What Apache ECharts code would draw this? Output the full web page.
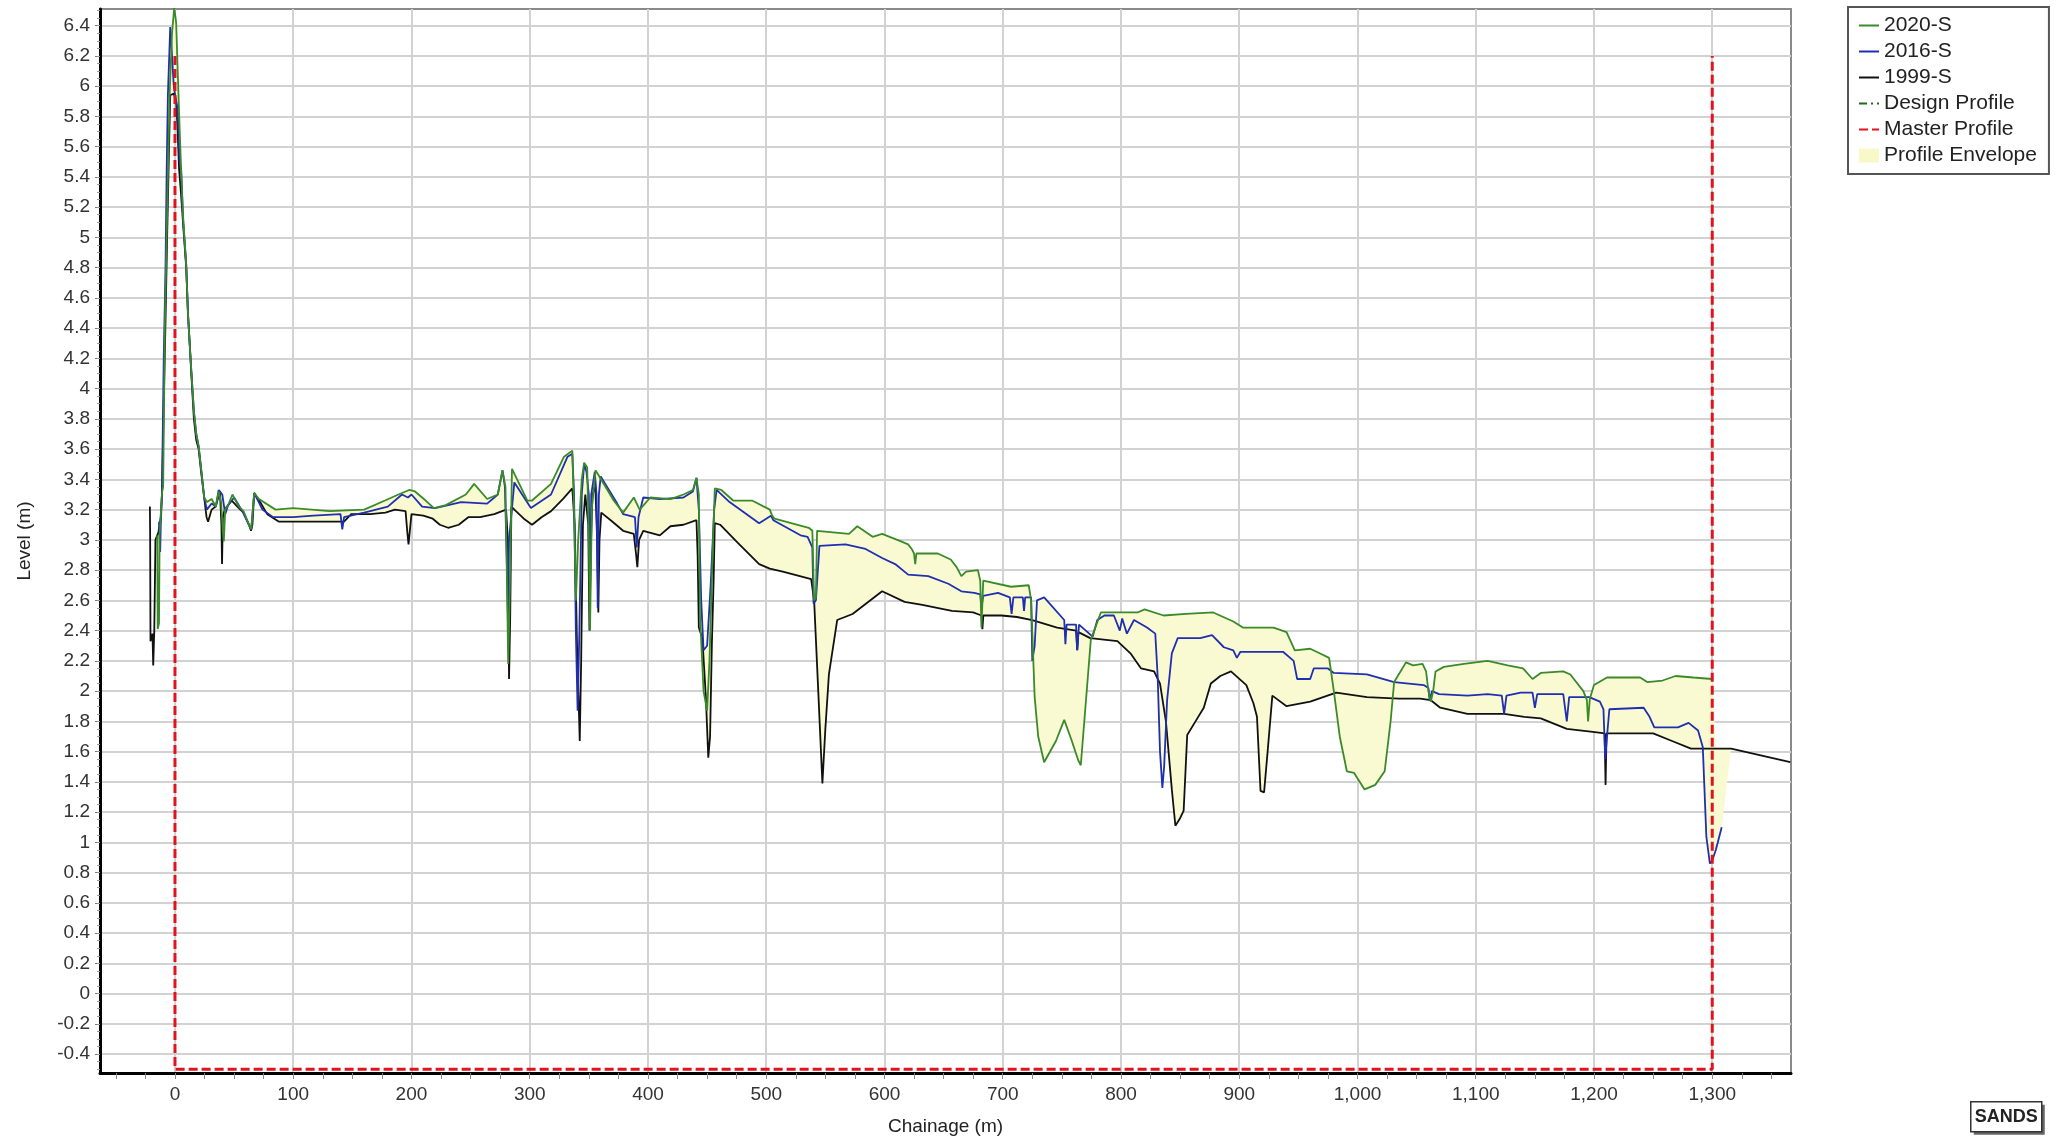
<!DOCTYPE html>
<html><head><meta charset="utf-8">
<script src="https://cdn.jsdelivr.net/npm/echarts@6/dist/echarts.min.js"></script>
<style>html,body{margin:0;padding:0;background:#fff}#c{width:2063px;height:1141px}</style>
</head><body><div id="c"></div>
<script>
// ---- tick labels ----
const xTicks = [0,100,200,300,400,500,600,700,800,900,1000,1100,1200,1300];
const yTicks = [-0.4,-0.2,0,0.2,0.4,0.6,0.8,1,1.2,1.4,1.6,1.8,2,2.2,2.4,2.6,2.8,3,3.2,3.4,3.6,3.8,4,4.2,4.4,4.6,4.8,5,5.2,5.4,5.6,5.8,6,6.2,6.4];

// ---- series: [chainage m, level m] ----
const s1999 = [[-21.2,3.22],[-21,3.03],[-20.7,2.33],[-19,2.38],[-18.4,2.17],[-17.5,2.4],[-16.5,3.0],[-14,3.05],[-12,3.15],[-11,3.3],[-9.5,3.9],[-8,4.45],[-6.5,5.05],[-5,5.6],[-4,5.94],[-1,5.95],[1,5.9],[2,5.75],[3.5,5.45],[5,5.3],[6.6,5.12],[9.5,4.8],[11,4.5],[13.8,4.1],[16,3.8],[18,3.66],[20,3.6],[22.4,3.43],[24.7,3.28],[26.7,3.15],[28,3.12],[31,3.2],[34.5,3.22],[38,3.32],[39.3,3.1],[39.8,2.84],[40.5,3.15],[42,3.2],[48,3.26],[54,3.21],[58,3.18],[62.6,3.1],[64.3,3.06],[65.5,3.1],[67,3.31],[72,3.25],[78,3.17],[88,3.12],[103,3.12],[120,3.12],[143,3.12],[149,3.17],[165,3.17],[178,3.18],[186,3.2],[195,3.19],[196.5,3.05],[197.5,2.97],[198.5,3.05],[200,3.17],[210,3.16],[218,3.14],[224,3.1],[231,3.08],[240,3.1],[248,3.15],[258,3.15],[270,3.17],[280,3.2],[281.5,3.0],[282.5,2.08],[283.5,2.5],[284.5,3.22],[287,3.2],[295,3.14],[302,3.1],[310,3.15],[318,3.19],[328,3.27],[336,3.34],[338,3.1],[340,2.3],[342.3,1.67],[343.5,2.2],[345,3.1],[347,3.3],[349.5,3.1],[350.5,2.4],[351.5,2.9],[353,3.3],[355.5,3.35],[357,3.0],[358,2.52],[359,3.0],[360.5,3.18],[370,3.12],[379,3.06],[388,3.04],[390,2.9],[391,2.82],[392.5,3.0],[396,3.06],[410,3.03],[419,3.09],[430,3.1],[441,3.13],[442,2.9],[443,2.42],[446,2.35],[449,1.95],[451,1.56],[452.5,1.7],[454,2.3],[455.5,2.73],[456.5,3.11],[461,3.1],[476,2.98],[494,2.84],[503,2.81],[514,2.79],[538,2.74],[540.5,2.6],[544,2.0],[547.5,1.39],[550,1.75],[553,2.11],[560,2.47],[573,2.51],[598,2.66],[617,2.59],[632,2.57],[657,2.53],[675,2.52],[682,2.5],[682.8,2.41],[683.6,2.5],[699,2.5],[712,2.49],[725,2.47],[746,2.42],[762,2.4],[763,2.27],[764,2.39],[774,2.35],[797,2.33],[808,2.25],[817,2.15],[828,2.13],[833,2.05],[838,1.8],[843,1.35],[846,1.11],[850,1.16],[853,1.21],[856,1.71],[863,1.8],[870,1.89],[876,2.05],[884,2.1],[893,2.13],[906,2.04],[912,1.92],[915,1.83],[918,1.34],[921,1.33],[924,1.6],[928,1.97],[940,1.9],[960,1.93],[982,1.99],[1008,1.96],[1035,1.95],[1053,1.95],[1062,1.94],[1070,1.89],[1093,1.85],[1124,1.85],[1141,1.83],[1155,1.82],[1177,1.75],[1199,1.73],[1209,1.72],[1209.8,1.38],[1210.6,1.72],[1233,1.72],[1250,1.72],[1266,1.67],[1282,1.62],[1316,1.62],[1366,1.53]];

const s2016 = [[-13.5,3.12],[-12.5,2.92],[-12,3.1],[-11,3.3],[-9.5,4.2],[-8,4.8],[-7,5.45],[-6,5.94],[-4,6.39],[-2.5,6.2],[-1,6.0],[1,5.9],[2.3,5.85],[4,5.5],[5.2,5.45],[7,5.1],[9.5,4.82],[11,4.49],[13.8,4.12],[16,3.85],[18,3.7],[20,3.62],[22.4,3.45],[24.7,3.28],[27,3.2],[31,3.24],[34.5,3.22],[37,3.33],[40,3.3],[42.5,3.17],[45,3.23],[50,3.28],[57,3.19],[62.5,3.1],[64.5,3.07],[67,3.31],[74,3.2],[83,3.15],[100,3.15],[117,3.16],[140,3.17],[141.5,3.07],[143,3.15],[160,3.18],[180,3.22],[192,3.3],[197,3.28],[200,3.3],[209,3.22],[220,3.21],[242,3.25],[264,3.24],[273,3.3],[277,3.46],[279,3.35],[280.5,2.9],[281.5,2.51],[282.5,3.0],[287,3.38],[301,3.21],[318,3.3],[332,3.55],[336,3.57],[337.5,3.3],[339,2.4],[340.5,1.87],[342,2.4],[344,3.3],[346,3.5],[348,3.45],[350,3.3],[351,2.6],[352,3.3],[355,3.45],[356.5,3.3],[357.5,2.55],[358.5,3.3],[360,3.42],[374,3.24],[379,3.17],[389,3.15],[390.5,2.95],[392,3.15],[396,3.28],[410,3.27],[430,3.28],[438,3.32],[441,3.41],[443,3.2],[445,2.6],[447,2.27],[450,2.3],[453,2.7],[456,3.2],[458,3.33],[469,3.25],[494,3.11],[504,3.16],[506,3.13],[529,3.03],[535,3.02],[539,2.95],[540,2.58],[542,2.6],[545,2.96],[567,2.97],[584,2.94],[598,2.88],[609,2.84],[620,2.77],[637,2.76],[654,2.71],[665,2.66],[676,2.65],[681,2.64],[682,2.55],[683.5,2.63],[696,2.65],[706,2.62],[707.5,2.51],[709,2.62],[717,2.62],[718,2.53],[719,2.62],[724,2.62],[725,2.2],[727,2.3],[729,2.6],[735,2.62],[752,2.47],[753,2.31],[754,2.44],[762,2.44],[763,2.27],[764.5,2.44],[776,2.36],[780,2.47],[786,2.5],[794,2.5],[799,2.4],[801,2.48],[805,2.38],[811,2.47],[822,2.42],[829,2.38],[831,2.1],[833,1.6],[835,1.36],[836.5,1.5],[839,1.94],[843,2.25],[848,2.35],[867,2.35],[877,2.37],[887,2.29],[895,2.27],[898,2.22],[901,2.26],[937,2.26],[946,2.2],[949,2.08],[960,2.08],[963,2.15],[975,2.15],[980,2.12],[1008,2.11],[1031,2.06],[1056,2.04],[1060,2.02],[1061,1.94],[1063,2.0],[1069,1.98],[1093,1.97],[1110,1.98],[1122,1.97],[1124,1.85],[1126,1.97],[1138,1.99],[1148,1.99],[1150,1.89],[1152,1.98],[1174,1.98],[1177,1.8],[1179,1.96],[1196,1.96],[1205,1.93],[1208,1.88],[1209.5,1.55],[1211,1.7],[1213,1.88],[1242,1.89],[1247,1.83],[1251,1.76],[1271,1.76],[1280,1.79],[1288,1.74],[1292,1.63],[1295,1.04],[1298,0.86],[1300,0.88],[1303,0.95],[1308,1.1]];

const s2020 = [[-15,3.03],[-14.6,2.41],[-13.5,2.45],[-13,3.03],[-11,3.31],[-10,3.35],[-9.5,3.7],[-8.5,4.44],[-6.5,5.2],[-4.5,5.95],[-2.5,6.35],[-0.6,6.52],[1,6.42],[2.3,6.1],[4,5.7],[5.2,5.45],[6.6,5.17],[9.5,4.82],[11,4.49],[13.8,4.12],[16,3.85],[18,3.7],[20,3.62],[22.4,3.45],[24.7,3.28],[27,3.25],[31,3.27],[34.5,3.22],[37,3.32],[39,3.25],[40.5,3.05],[41.3,2.99],[42.5,3.2],[45,3.23],[48.6,3.3],[54,3.22],[58,3.19],[62.5,3.1],[64.5,3.07],[67,3.31],[71,3.27],[85,3.2],[100,3.21],[131,3.19],[160,3.2],[177.6,3.26],[189,3.3],[198,3.33],[203,3.32],[212,3.26],[219,3.21],[229,3.23],[246,3.3],[253,3.37],[264,3.27],[273,3.3],[277,3.46],[279.5,3.35],[281,2.6],[281.8,2.18],[283,2.6],[285,3.47],[298,3.26],[302,3.26],[318,3.37],[329,3.55],[336,3.59],[337.5,3.2],[339,2.6],[341,3.0],[344,3.4],[346,3.51],[348.6,3.48],[350,3.0],[351,2.4],[352.5,3.2],[355.6,3.46],[358,3.43],[371,3.26],[379,3.18],[388,3.28],[393,3.2],[402,3.28],[419,3.27],[430,3.3],[438,3.33],[441,3.41],[443,3.3],[444,2.5],[447,2.0],[450,1.87],[452,2.2],[455,3.0],[456.5,3.34],[462,3.33],[472,3.26],[488,3.26],[503,3.2],[505,3.16],[507,3.14],[536,3.08],[539,3.06],[540.5,2.6],[542,2.62],[543,3.06],[570,3.04],[577,3.09],[590,3.02],[598,3.04],[614,2.99],[620,2.97],[623,2.94],[625,2.91],[626,2.84],[627,2.91],[645,2.91],[656,2.87],[661,2.82],[665,2.76],[669,2.79],[679,2.8],[681,2.73],[682,2.42],[683.5,2.73],[707,2.69],[722,2.7],[724,2.6],[727,1.96],[730,1.7],[735,1.53],[745,1.67],[752,1.81],[758,1.68],[764,1.54],[766,1.51],[770,1.9],[774.5,2.34],[783,2.52],[814,2.52],[820,2.54],[836,2.5],[855,2.51],[878,2.52],[895,2.46],[903,2.42],[929,2.42],[940,2.39],[947,2.27],[960,2.28],[968,2.25],[976,2.22],[980,2.0],[985,1.7],[991,1.47],[997,1.46],[1006,1.35],[1015,1.38],[1023,1.47],[1028,1.8],[1031,2.06],[1041,2.19],[1047,2.17],[1055,2.18],[1058,2.13],[1060,2.0],[1062,1.93],[1064,2.0],[1066,2.13],[1073,2.16],[1090,2.18],[1110,2.2],[1127,2.17],[1140,2.15],[1148,2.08],[1155,2.12],[1174,2.13],[1180,2.11],[1191,2.0],[1194,1.94],[1195,1.8],[1196.5,1.95],[1200,2.04],[1211,2.09],[1239,2.09],[1245,2.06],[1258,2.07],[1269,2.1],[1284,2.09],[1300,2.08]];

const designProfile = [];
const masterProfile = [[0,6.2],[0,-0.5],[1300,-0.5],[1300,6.2]];

// ---- envelope = min/max of the surveyed profiles ----
function levelAt(s, x) {
  if (x < s[0][0] || x > s[s.length-1][0]) return null;
  for (let i = 1; i < s.length; i++) {
    if (x <= s[i][0]) {
      const [x0,y0] = s[i-1], [x1,y1] = s[i];
      if (x1 === x0) return y1;
      return y0 + (y1-y0)*(x-x0)/(x1-x0);
    }
  }
  return s[s.length-1][1];
}
const profiles = [s1999, s2016, s2020];
const xs = Array.from(new Set(profiles.flatMap(s => s.map(p => p[0])))).sort((a,b)=>a-b);
const upper = [], lower = [];
xs.forEach(x => {
  const v = profiles.map(s => levelAt(s, x)).filter(v => v !== null);
  if (v.length) { upper.push([x, Math.max(...v)]); lower.push([x, Math.min(...v)]); }
});
const envelopePoly = upper.concat(lower.slice().reverse());

const xMinor = []; for (let v = -50; v <= 1350; v += 25) xMinor.push(v);
const yMinor = []; for (let k = -10; k <= 130; k++) yMinor.push(Math.round(k*5)/100);

const FONT = "'Liberation Sans', Arial, sans-serif";
const chart = echarts.init(document.getElementById('c'), null, {renderer: 'canvas'});
const XMIN = -63.4, XMAX = 1366.6, YMIN = -0.525, YMAX = 6.51;

chart.setOption({
  animation: false,
  backgroundColor: '#fff',
  grid: {left: 100, right: 272, top: 9, bottom: 66, show: true, borderColor: '#8a8a8a', borderWidth: 2, backgroundColor: 'transparent'},
  xAxis: [{
    type: 'value', min: XMIN, max: XMAX, position: 'bottom',
    name: 'Chainage (m)', nameLocation: 'middle', nameGap: 44,
    nameTextStyle: {fontSize: 19, color: '#222', fontFamily: FONT},
    axisLine: {show: true, onZero: false, lineStyle: {color: '#000', width: 3}},
    axisTick: {show: true, customValues: xTicks, length: 6, lineStyle: {color: '#777'}},
    axisLabel: {customValues: xTicks, margin: 12, fontSize: 19, color: '#333', fontFamily: FONT,
      formatter: v => Number(v).toLocaleString('en-US')},
    splitLine: {show: true, lineStyle: {color: '#d2d2d2', width: 2}}
  }, {
    type: 'value', min: XMIN, max: XMAX, position: 'bottom',
    axisLine: {show: false, onZero: false}, axisLabel: {show: false}, splitLine: {show: false},
    axisTick: {show: true, customValues: xMinor, length: 6, lineStyle: {color: '#888'}}
  }],
  yAxis: [{
    type: 'value', min: YMIN, max: YMAX, position: 'left',
    name: 'Level (m)', nameLocation: 'middle', nameGap: 66,
    nameTextStyle: {fontSize: 19, color: '#222', fontFamily: FONT},
    axisLine: {show: true, onZero: false, lineStyle: {color: '#000', width: 3}},
    axisTick: {show: true, customValues: yTicks, length: 5, lineStyle: {color: '#777'}},
    axisLabel: {customValues: yTicks, margin: 10, fontSize: 19, color: '#333', fontFamily: FONT,
      formatter: v => String(Number(Number(v).toFixed(1)))},
    splitLine: {show: true, lineStyle: {color: '#d2d2d2', width: 2}}
  }, {
    type: 'value', min: YMIN, max: YMAX, position: 'left',
    axisLine: {show: false, onZero: false}, axisLabel: {show: false}, splitLine: {show: false},
    axisTick: {show: true, customValues: yMinor, length: 3, lineStyle: {color: '#999'}}
  }],
  legend: {
    orient: 'vertical', left: 1848, top: 7,
    itemWidth: 20, itemHeight: 14, itemGap: 5,
    padding: [8, 12, 8, 10],
    borderColor: '#555', borderWidth: 2, backgroundColor: '#fff',
    itemStyle: {opacity: 0},
    textStyle: {fontSize: 21, color: '#222', fontFamily: FONT},
    data: ['2020-S', '2016-S', '1999-S', 'Design Profile', 'Master Profile',
      {name: 'Profile Envelope', icon: 'rect', itemStyle: {opacity: 1, color: '#f8f8c8'}}]
  },
  series: [
    {
      name: 'Profile Envelope', type: 'custom', coordinateSystem: 'cartesian2d',
      xAxisIndex: 0, yAxisIndex: 0, clip: true, silent: true, z: 1,
      itemStyle: {color: '#fafad2'},
      data: [[0, 0]],
      renderItem: (params, api) => ({
        type: 'polygon',
        shape: {points: envelopePoly.map(p => api.coord(p))},
        style: {fill: '#fafad2', stroke: null}
      })
    },
    {name: '1999-S', type: 'line', data: s1999, symbol: 'none', z: 3,
      lineStyle: {color: '#111', width: 1.8}, itemStyle: {color: '#111'}},
    {name: '2016-S', type: 'line', data: s2016, symbol: 'none', z: 4,
      lineStyle: {color: '#1f2fb0', width: 1.8}, itemStyle: {color: '#1f2fb0'}},
    {name: '2020-S', type: 'line', data: s2020, symbol: 'none', z: 5,
      lineStyle: {color: '#3a8a2a', width: 1.8}, itemStyle: {color: '#3a8a2a'}},
    {name: 'Design Profile', type: 'line', data: designProfile, symbol: 'none', z: 6,
      lineStyle: {color: '#1e6b1e', width: 3, type: [8, 4, 2, 4]}, itemStyle: {color: '#1e6b1e'}},
    {name: 'Master Profile', type: 'line', data: masterProfile, symbol: 'none', z: 7,
      lineStyle: {color: '#e0141e', width: 3, type: [9, 4]}, itemStyle: {color: '#e0141e'}}
  ],
  graphic: [{
    type: 'group', left: 1970, top: 1101,
    children: [
      {type: 'rect', shape: {x: 3, y: 3, width: 71, height: 30}, style: {fill: '#666'}},
      {type: 'rect', shape: {x: 0, y: 0, width: 71, height: 30}, style: {fill: '#fff', stroke: '#333', lineWidth: 1.5}},
      {type: 'text', style: {text: 'SANDS', x: 35.5, y: 15, align: 'center', verticalAlign: 'middle',
        font: "bold 18px 'Liberation Sans Narrow', 'Liberation Sans', Arial, sans-serif", fill: '#222'}}
    ]
  }]
});
</script>
</body></html>
